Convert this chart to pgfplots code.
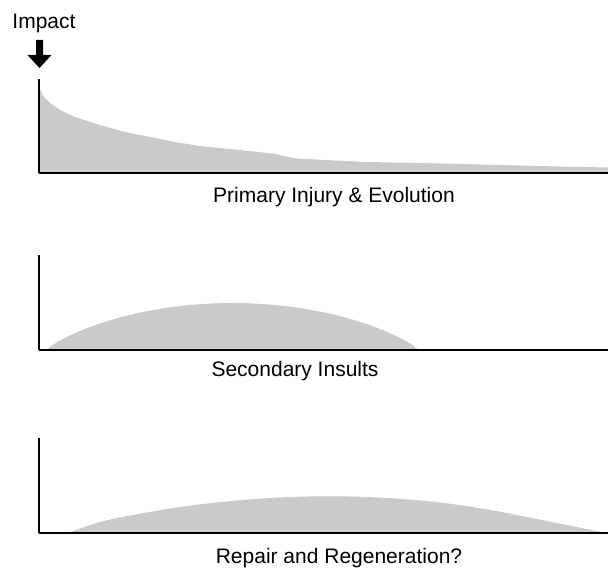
\documentclass[border=0pt]{standalone}
\usepackage{pgfplots}
\pgfplotsset{compat=1.18}
\usepackage{fontspec}
\setmainfont{Liberation Sans}
\definecolor{fillgray}{RGB}{201,202,204}
\pgfplotsset{panel/.style={
  scale only axis, width=569pt, anchor=south west,
  xmin=0, xmax=569, ymin=0,
  axis x line=bottom, axis y line=left,
  axis line style={-, line width=1.8pt, black},
  xtick=\empty, ytick=\empty, axis on top, clip=false}}
\begin{document}
\begin{tikzpicture}
\path[use as bounding box] (0pt,0pt) rectangle (609pt,567pt);
% Panel 1
\begin{axis}[panel, at={(39pt,394pt)}, height=94pt, ymax=94]
\addplot[fill=fillgray, draw=none] coordinates {
(0,89) (1,84) (3,79) (6,75) (11,70) (21,63) (36,56) (61,48) (86,41) (111,36)
(136,31) (161,27) (200,23) (234,19.5) (245,17) (258,14.5) (295,12.5) (328,11)
(394,9.7) (461,8) (528,6.3) (569,5.5)} \closedcycle;
\end{axis}
% Panel 2
\begin{axis}[panel, at={(39pt,217pt)}, height=95pt, ymax=95]
\addplot[fill=fillgray, draw=none, smooth, tension=0.4] coordinates {
(8,0) (12,3.8) (20,8.9) (30,14.1) (45,20.7) (60,26.2) (80,32.3) (100,37.2)
(125,41.8) (150,44.9) (175,46.6) (193.5,47) (212,46.6) (237,44.9) (262,41.8)
(287,37.2) (307,32.3) (327,26.2) (342,20.7) (357,14.1) (367,8.9) (375,3.8) (379,0)} \closedcycle;
\end{axis}
% Panel 3
\begin{axis}[panel, at={(39pt,34pt)}, height=95pt, ymax=95]
\addplot[fill=fillgray, draw=none, smooth, tension=0.4] coordinates {
(28,0) (34,2) (40,4) (50,7.5) (61,11) (77,14.8) (94,18) (128,24) (161,28.6)
(200,32.7) (240,35.5) (281,36.7) (320,36.3) (361,34.2) (395,31.2) (428,26.9)
(461,21.3) (494,14.7) (528,7.9) (548,3.9) (568,0)} \closedcycle;
\end{axis}
% Annotations
\fill[black] (36pt,527pt) -- (43pt,527pt) -- (43pt,512pt) -- (51.5pt,512pt)
  -- (39.5pt,499pt) -- (27.5pt,512pt) -- (36pt,512pt) -- cycle;
\node[anchor=base, inner sep=0pt, font=\fontsize{21}{25}\selectfont] at (44pt,538pt) {Impact};
\node[anchor=base, inner sep=0pt, font=\fontsize{21}{25}\selectfont] at (334pt,364pt) {Primary Injury \& Evolution};
\node[anchor=base, inner sep=0pt, font=\fontsize{21}{25}\selectfont] at (295pt,190pt) {Secondary Insults};
\node[anchor=base, inner sep=0pt, font=\fontsize{21}{25}\selectfont] at (339pt,4pt) {Repair and Regeneration?};
\end{tikzpicture}
\end{document}
